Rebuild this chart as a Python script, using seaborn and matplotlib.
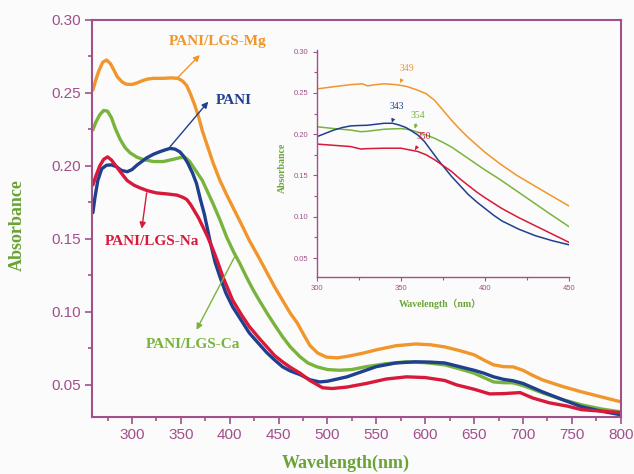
import numpy as np
import pandas as pd
import seaborn as sns
import matplotlib.pyplot as plt

# main spectra (nm, absorbance)
mg_wl = [260, 263, 266, 270, 274, 278, 282, 285, 290, 294, 300, 305, 311, 316, 322, 332, 340, 347, 352,
         356, 360, 364, 368, 372, 378, 383, 390, 397, 403, 412, 420, 430, 438, 446, 454, 462, 469, 476,
         482, 490, 499, 510, 520, 535, 550, 570, 590, 605, 620, 635, 650, 660, 670, 680, 690, 700, 710,
         720, 740, 760, 780, 800]
mg_abs = [0.252, 0.259, 0.265, 0.271, 0.2726, 0.270, 0.265, 0.261, 0.2575, 0.256, 0.2558, 0.2568,
          0.2585, 0.2595, 0.260, 0.260, 0.2603, 0.260, 0.258, 0.255, 0.249, 0.242, 0.234, 0.224,
          0.212, 0.202, 0.190, 0.180, 0.172, 0.160, 0.149, 0.137, 0.127, 0.117, 0.108, 0.099, 0.0925,
          0.084, 0.077, 0.0718, 0.069, 0.0685, 0.0695, 0.0715, 0.074, 0.0768, 0.078, 0.0775, 0.076,
          0.0735, 0.0706, 0.067, 0.0637, 0.0625, 0.0623, 0.060, 0.0565, 0.0534, 0.049, 0.0452, 0.0418,
          0.0384]

ca_wl = [260, 263, 267, 271, 275, 279, 283, 288, 293, 298, 305, 311, 322, 332, 342, 350, 355, 359, 365,
         372, 383, 390, 397, 404, 410, 417, 424, 431, 438, 446, 454, 462, 472, 480, 489, 500, 512, 525,
         540, 560, 580, 600, 620, 635, 650, 660, 670, 680, 690, 700, 720, 740, 760, 780, 800]
ca_abs = [0.2247, 0.230, 0.235, 0.238, 0.2375, 0.233, 0.2255, 0.218, 0.2125, 0.209, 0.206, 0.2045,
          0.203, 0.203, 0.2045, 0.2058, 0.2055, 0.203, 0.197, 0.190, 0.174, 0.163, 0.151, 0.141,
          0.1336, 0.124, 0.115, 0.107, 0.0993, 0.091, 0.083, 0.076, 0.0692, 0.065, 0.0624, 0.0605,
          0.0600, 0.0605, 0.0625, 0.0645, 0.0658, 0.0652, 0.0637, 0.061, 0.058, 0.055, 0.052, 0.0515,
          0.0514, 0.0495, 0.0445, 0.040, 0.0363, 0.0335, 0.0315]

pani_wl = [260, 262, 265, 269, 274, 279, 284, 289, 295, 300, 305, 315, 322, 328, 334, 339, 344, 349,
           353, 357, 362, 366, 370, 374, 380, 385, 390, 396, 403, 412, 420, 430, 438, 446, 454, 462,
           472, 482, 492, 500, 510, 520, 535, 550, 570, 590, 605, 620, 635, 650, 660, 670, 680, 690,
           700, 720, 740, 760, 780, 800]
pani_abs = [0.168, 0.178, 0.190, 0.198, 0.2005, 0.2007, 0.1995, 0.197, 0.196, 0.1975, 0.2005, 0.2055,
            0.208, 0.2096, 0.211, 0.212, 0.2115, 0.2096, 0.2065, 0.202, 0.195, 0.188, 0.177, 0.167,
            0.148, 0.134, 0.124, 0.113, 0.1034, 0.094, 0.0856, 0.078, 0.072, 0.067, 0.0624, 0.0595,
            0.057, 0.0535, 0.0520, 0.0525, 0.054, 0.0555, 0.059, 0.0625, 0.065, 0.0658, 0.0656, 0.065,
            0.0625, 0.060, 0.058, 0.0555, 0.0538, 0.0528, 0.051, 0.0452, 0.040, 0.035, 0.032, 0.0295]

na_wl = [260, 263, 267, 271, 275, 279, 283, 288, 295, 302, 308, 316, 325, 336, 346, 352, 356, 360, 364,
         368, 372, 377, 383, 388, 393, 403, 412, 420, 430, 438, 446, 454, 462, 472, 482, 495, 505, 520,
         540, 560, 581, 600, 620, 632, 650, 666, 680, 697, 710, 727, 745, 760, 780, 800]
na_abs = [0.187, 0.193, 0.200, 0.2045, 0.2062, 0.204, 0.2005, 0.196, 0.190, 0.1868, 0.185, 0.183,
          0.1815, 0.1808, 0.180, 0.1785, 0.177, 0.1735, 0.169, 0.1645, 0.159, 0.152, 0.1425, 0.1336,
          0.124, 0.108, 0.098, 0.090, 0.082, 0.076, 0.070, 0.0658, 0.062, 0.058, 0.053, 0.048, 0.0475,
          0.0485, 0.051, 0.054, 0.0555, 0.055, 0.053, 0.050, 0.047, 0.0438, 0.044, 0.0447, 0.041,
          0.0377, 0.0355, 0.033, 0.032, 0.031]

# inset spectra 300-450 nm
in_mg_wl = [300, 310, 320, 327, 330, 335, 340, 347, 353, 359, 365, 370, 375, 380, 385, 390, 395, 400,
            409, 419, 429, 439, 450]
in_mg_abs = [0.2548, 0.2575, 0.260, 0.261, 0.2585, 0.260, 0.261, 0.260, 0.258, 0.254, 0.249, 0.241,
             0.229, 0.217, 0.206, 0.196, 0.187, 0.178, 0.164, 0.150, 0.138, 0.126, 0.113]

in_ca_wl = [300, 310, 320, 326, 330, 340, 350, 355, 360, 365, 370, 375, 380, 389, 399, 409, 419, 429,
            439, 450]
in_ca_abs = [0.209, 0.2068, 0.205, 0.203, 0.2035, 0.206, 0.2068, 0.2055, 0.2025, 0.199, 0.195, 0.190,
             0.1845, 0.172, 0.158, 0.145, 0.131, 0.117, 0.103, 0.088]

in_pani_wl = [300, 305, 310, 315, 320, 325, 330, 335, 340, 345, 349, 353, 357, 360, 364, 368, 372, 376,
              380, 385, 390, 395, 400, 405, 410, 420, 430, 440, 450]
in_pani_abs = [0.197, 0.201, 0.205, 0.208, 0.210, 0.2105, 0.2108, 0.212, 0.2132, 0.2132, 0.211, 0.208,
               0.203, 0.199, 0.191, 0.180, 0.169, 0.159, 0.149, 0.138, 0.127, 0.118, 0.110, 0.102,
               0.095, 0.085, 0.077, 0.071, 0.066]

in_na_wl = [300, 310, 320, 326, 330, 340, 350, 355, 360, 365, 370, 375, 380, 385, 390, 395, 400, 410,
            420, 430, 440, 450]
in_na_abs = [0.188, 0.1865, 0.185, 0.182, 0.1825, 0.183, 0.183, 0.181, 0.179, 0.175, 0.169, 0.162,
             0.155, 0.146, 0.138, 0.130, 0.123, 0.110, 0.099, 0.089, 0.079, 0.069]

ORANGE = '#f0962a'
GREEN = '#78b43c'
BLUE = '#1f3f8f'
RED = '#d7193a'
PURPLE = '#a0508a'
LABEL_GREEN = '#6aa337'
BG = '#fbfbfb'


def style_axes(ax, spine_w, major, minor, lab_size, spines):
    for name, sp in ax.spines.items():
        sp.set_visible(name in spines)
        sp.set_color(PURPLE)
        sp.set_linewidth(spine_w)
    ax.tick_params(which='major', direction='out', length=major, width=spine_w * 0.8,
                   color=PURPLE, labelcolor=PURPLE, labelsize=lab_size, pad=3)
    ax.tick_params(which='minor', direction='out', length=minor, width=spine_w * 0.8, color=PURPLE)
    ax.tick_params(top=False, right=False, which='both')
    for t in ax.get_xticklabels() + ax.get_yticklabels():
        t.set_fontfamily('Liberation Sans')


def plot_spectra():
    sns.set_theme(style='ticks')
    plt.rcParams['font.family'] = ['Liberation Serif', 'DejaVu Serif']

    fig = plt.figure(figsize=(6.34, 4.74), dpi=100, facecolor=BG)
    ax = fig.add_axes([0.145, 0.1203, 0.834, 0.8376], facecolor=BG)

    for wl, ab, c in [(mg_wl, mg_abs, ORANGE), (ca_wl, ca_abs, GREEN),
                      (pani_wl, pani_abs, BLUE), (na_wl, na_abs, RED)]:
        sns.lineplot(x=wl, y=ab, ax=ax, color=c, lw=2.4)

    ax.set_xlim(259, 800)
    ax.set_ylim(0.028, 0.30)
    ax.set_xticks(np.arange(300, 801, 50))
    ax.set_xticks(np.arange(275, 801, 25), minor=True)
    ax.set_yticks([0.05, 0.10, 0.15, 0.20, 0.25, 0.30])
    ax.set_yticks(np.arange(0.05, 0.30, 0.025), minor=True)
    ax.set_yticklabels(['0.05', '0.10', '0.15', '0.20', '0.25', '0.30'])
    style_axes(ax, 1.5, 5, 3, 11, ('left', 'bottom', 'top', 'right'))

    ax.set_xlabel('Wavelength(nm)', color=LABEL_GREEN, fontsize=13, fontweight='bold')
    ax.set_ylabel('Absorbance', color=LABEL_GREEN, fontsize=13, fontweight='bold')
    ax.xaxis.set_label_coords(0.48, -0.095)
    ax.yaxis.set_label_coords(-0.125, 0.484)

    arrow = dict(arrowstyle='-|>', lw=1.0, mutation_scale=9, shrinkA=0, shrinkB=0)
    labels = [('PANI/LGS-Mg', ORANGE, (387.8, 0.285), (346, 0.260), (369.4, 0.276)),
              ('PANI', BLUE, (404, 0.245), (338.8, 0.213), (378, 0.244)),
              ('PANI/LGS-Na', RED, (320, 0.148), (315, 0.1815), (310, 0.157)),
              ('PANI/LGS-Ca', GREEN, (362, 0.0774), (405, 0.1377), (366, 0.0877))]
    for txt, c, pos, start, head in labels:
        ax.text(*pos, txt, color=c, fontsize=11, fontweight='bold', ha='center', va='center')
        ax.annotate('', xy=head, xytext=start, arrowprops=dict(arrow, color=c))

    # inset
    ins = fig.add_axes([0.5, 0.4156, 0.3975, 0.479], facecolor=BG)
    for wl, ab, c in [(in_mg_wl, in_mg_abs, ORANGE), (in_ca_wl, in_ca_abs, GREEN),
                      (in_pani_wl, in_pani_abs, BLUE), (in_na_wl, in_na_abs, RED)]:
        sns.lineplot(x=wl, y=ab, ax=ins, color=c, lw=1.1)
    ins.set_xlim(300, 450)
    ins.set_ylim(0.027, 0.302)
    ins.set_xticks([300, 350, 400, 450])
    ins.set_xticks([325, 375, 425], minor=True)
    ins.set_yticks([0.05, 0.10, 0.15, 0.20, 0.25, 0.30])
    ins.set_yticks(np.arange(0.075, 0.30, 0.05), minor=True)
    ins.set_yticklabels(['0.05', '0.10', '0.15', '0.20', '0.25', '0.30'])
    style_axes(ins, 1.0, 3, 2, 5.5, ('left', 'bottom'))
    ins.set_xlabel('Wavelength（nm）', color=LABEL_GREEN, fontsize=7, fontweight='bold',
                   family=['Liberation Serif', 'Noto Sans CJK SC'])
    ins.set_ylabel('Absorbance', color=LABEL_GREEN, fontsize=7, fontweight='bold')
    ins.xaxis.set_label_coords(0.488, -0.095)
    ins.yaxis.set_label_coords(-0.12, 0.48)

    peaks = [('349', ORANGE, (353.6, 0.279), (349.4, 0.262)),
             ('343', BLUE, (347.6, 0.2333), (344.6, 0.214)),
             ('354', GREEN, (360, 0.2223), (358.3, 0.2066)),
             ('350', RED, (363.7, 0.1968), (358.3, 0.181))]
    small = dict(arrowstyle='-|>', lw=0.7, mutation_scale=5, shrinkA=4, shrinkB=0)
    for txt, c, pos, head in peaks:
        ins.annotate(txt, xy=head, xytext=pos, color=c, fontsize=7, ha='center', va='center',
                     arrowprops=dict(small, color=c))

    fig.savefig('out.png', dpi=100, facecolor=BG)


if __name__ == '__main__':
    plot_spectra()
